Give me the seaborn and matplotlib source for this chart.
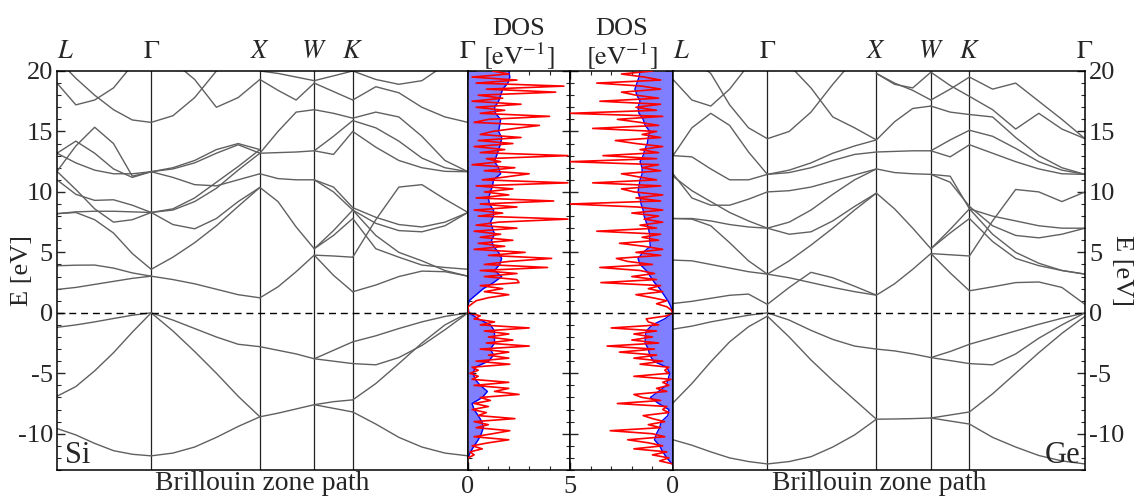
import numpy as np
import pandas as pd
import matplotlib
matplotlib.use("Agg")
import matplotlib.pyplot as plt
import seaborn as sns
from matplotlib.ticker import MultipleLocator

sns.set_theme(style="ticks")
plt.rcParams["font.family"] = ["Liberation Serif", "DejaVu Serif"]
plt.rcParams["mathtext.fontset"] = "stix"
plt.rcParams["axes.unicode_minus"] = False

# ---------------- data ----------------
K_LABELS = ["$L$", r"$\Gamma$", "$X$", "$W$", "$K$", r"$\Gamma$"]
K_NODES = [0.0, 0.866, 1.866, 2.366, 2.720, 3.780]

SI_LG = [
    [-9.57, -10.1, -10.8, -11.4, -11.7, -11.83],
    [-6.9, -6.1, -4.8, -3.3, -1.6, 0.0],
    [-1.2, -1.0, -0.75, -0.47, -0.2, 0.0],
    [1.93, 2.1, 2.35, 2.6, 2.85, 3.03],
    [3.89, 3.94, 3.95, 3.7, 3.3, 3.03],
    [8.2, 8.3, 7.7, 6.6, 4.9, 3.6],
    [8.2, 8.35, 8.4, 8.4, 8.35, 8.3],
    [11.0, 9.8, 9.3, 9.35, 8.9, 8.3],
    [11.7, 10.2, 8.6, 7.5, 7.7, 8.3],
    [11.7, 13.8, 15.35, 14.0, 11.3, 11.67],
    [13.2, 14.2, 13.2, 11.9, 11.2, 11.67],
    [13.2, 12.4, 11.8, 11.5, 11.5, 11.67],
    [19.0, 17.2, 17.6, 18.6, 20.5, 21.0],
    [21.0, 19.4, 18.0, 16.8, 15.95, 15.75],
]
SI_GX = [
    [-11.83, -11.6, -11.1, -10.3, -9.4, -8.6],
    [0.0, -1.5, -3.2, -5.0, -6.9, -8.6],
    [0.0, -0.6, -1.3, -2.0, -2.6, -2.8],
    [3.03, 2.75, 2.4, 1.95, 1.5, 1.24],
    [3.6, 4.6, 5.8, 7.2, 8.8, 10.37],
    [8.3, 7.3, 6.95, 7.8, 9.2, 10.37],
    [8.3, 8.5, 9.2, 10.3, 11.8, 13.2],
    [8.3, 8.6, 9.5, 10.8, 12.1, 13.5],
    [11.67, 11.9, 12.4, 13.2, 13.9, 13.2],
    [11.67, 11.2, 10.6, 10.5, 11.0, 11.5],
    [11.67, 12.0, 12.6, 13.5, 14.0, 13.5],
    [15.75, 16.3, 17.8, 20.0, 21.0, 21.0],
    [21.0, 20.8, 19.3, 17.0, 17.8, 19.3],
]
SI_XW = [
    [-8.6, -8.3, -7.95, -7.6],
    [-2.8, -3.1, -3.4, -3.8],
    [1.24, 2.15, 3.4, 4.77],
    [10.37, 9.2, 7.1, 5.3],
    [11.5, 11.1, 11.0, 11.0],
    [13.2, 13.25, 13.3, 13.4],
    [13.2, 15.0, 16.6, 16.8],
    [19.3, 18.4, 17.6, 19.0],
    [20.0, 19.8, 19.5, 19.2],
]
SI_WK = [
    [-7.6, -7.9, -8.2],
    [-7.6, -7.35, -7.2],
    [-3.8, -4.0, -4.2],
    [-3.8, -3.1, -2.4],
    [4.77, 3.1, 1.74],
    [4.77, 4.7, 4.6],
    [5.3, 6.4, 7.8],
    [5.3, 6.8, 8.5],
    [11.0, 10.0, 8.5],
    [11.0, 10.4, 8.7],
    [13.4, 13.1, 15.0],
    [13.4, 14.6, 15.9],
    [16.8, 16.5, 16.1],
    [19.0, 18.3, 17.6],
    [19.2, 19.6, 20.0],
]
SI_KG = [
    [-8.2, -9.2, -10.3, -11.1, -11.6, -11.83],
    [-7.2, -5.85, -4.2, -2.5, -1.0, 0.0],
    [-4.2, -4.3, -3.7, -2.7, -1.4, 0.0],
    [-2.4, -1.9, -1.3, -0.75, -0.3, 0.0],
    [1.74, 2.3, 3.0, 3.45, 3.4, 3.03],
    [4.6, 7.7, 10.4, 10.6, 9.4, 8.3],
    [7.8, 5.3, 4.6, 3.95, 3.75, 3.6],
    [8.5, 6.4, 5.0, 4.3, 3.5, 3.03],
    [8.5, 7.4, 6.8, 6.7, 7.2, 8.3],
    [8.7, 7.9, 7.3, 7.1, 7.5, 8.3],
    [15.0, 13.7, 12.6, 12.0, 11.7, 11.67],
    [15.9, 15.3, 14.2, 12.8, 12.0, 11.67],
    [16.1, 16.6, 16.2, 14.6, 12.6, 11.67],
    [17.6, 18.7, 18.2, 17.0, 16.2, 15.75],
    [20.0, 19.3, 18.9, 19.2, 20.5, 21.0],
]

GE_LG = [
    [-10.5, -10.95, -11.5, -12.0, -12.3, -12.5],
    [-7.45, -5.85, -4.05, -2.4, -1.15, -0.28],
    [-1.35, -1.1, -0.75, -0.47, -0.2, 0.0],
    [0.77, 0.95, 1.2, 1.45, 1.55, 0.7],
    [4.36, 4.3, 4.0, 3.7, 3.4, 3.2],
    [7.8, 7.75, 7.2, 5.8, 4.3, 3.2],
    [7.8, 7.8, 7.6, 7.3, 7.1, 7.0],
    [11.5, 9.5, 8.9, 8.9, 9.4, 10.0],
    [11.3, 10.1, 9.2, 8.3, 7.6, 7.0],
    [13.0, 12.9, 11.9, 11.0, 11.0, 11.45],
    [13.0, 15.3, 16.5, 15.5, 13.3, 11.45],
    [19.3, 17.6, 17.1, 18.5, 20.5, 21.0],
    [21.0, 21.0, 19.8, 17.2, 15.3, 14.4],
]
GE_GX = [
    [-12.5, -12.3, -11.9, -11.1, -10.1, -8.8],
    [-0.28, -2.0, -3.9, -5.6, -7.2, -8.8],
    [0.0, -0.6, -1.45, -2.2, -2.75, -3.0],
    [0.7, 2.1, 3.35, 2.9, 2.2, 1.46],
    [3.2, 2.9, 2.5, 2.1, 1.75, 1.46],
    [3.2, 4.3, 5.6, 7.0, 8.5, 9.9],
    [7.0, 6.5, 6.7, 7.6, 8.8, 9.9],
    [7.0, 7.5, 8.5, 9.8, 11.0, 11.9],
    [10.0, 10.1, 10.4, 10.9, 11.4, 11.9],
    [11.45, 11.6, 12.0, 12.6, 13.1, 13.3],
    [11.45, 11.8, 12.4, 13.2, 13.8, 14.3],
    [14.4, 15.0, 16.6, 18.9, 21.0, 21.0],
    [21.0, 20.5, 18.6, 16.2, 15.3, 14.3],
]
GE_XW = [
    [-8.8, -8.78, -8.75, -8.7],
    [-3.0, -3.15, -3.4, -3.7],
    [1.46, 2.4, 3.6, 4.9],
    [9.9, 8.6, 7.0, 5.3],
    [11.9, 11.6, 11.5, 11.45],
    [13.3, 13.35, 13.4, 13.4],
    [14.3, 15.8, 16.9, 17.1],
    [19.8, 19.0, 18.4, 17.6],
    [19.8, 18.9, 18.6, 19.9],
]
GE_WK = [
    [-8.7, -8.95, -9.2],
    [-8.7, -8.45, -8.2],
    [-3.7, -3.95, -4.2],
    [-3.7, -3.2, -2.6],
    [4.9, 3.3, 1.82],
    [4.9, 4.8, 4.7],
    [5.3, 6.6, 7.8],
    [5.3, 6.9, 8.6],
    [11.45, 11.3, 8.6],
    [11.45, 10.8, 8.8],
    [13.4, 12.9, 13.9],
    [13.4, 14.3, 15.1],
    [17.1, 16.6, 16.4],
    [17.6, 18.5, 19.5],
    [19.9, 18.8, 17.9],
]
GE_KG = [
    [-9.2, -10.3, -11.1, -11.8, -12.25, -12.5],
    [-8.2, -6.7, -5.0, -3.3, -1.7, -0.28],
    [-4.2, -4.3, -3.4, -2.1, -1.0, 0.0],
    [-2.6, -2.05, -1.5, -0.95, -0.45, 0.0],
    [1.82, 2.15, 2.5, 2.55, 2.1, 0.7],
    [4.7, 7.6, 10.2, 10.0, 9.2, 10.0],
    [7.8, 5.9, 4.5, 3.9, 3.5, 3.2],
    [8.6, 6.5, 5.0, 4.1, 3.5, 3.2],
    [8.6, 8.0, 7.6, 7.2, 7.0, 7.0],
    [8.8, 7.2, 6.4, 6.2, 6.5, 7.0],
    [13.9, 13.2, 12.5, 11.9, 11.5, 11.45],
    [15.1, 14.6, 13.6, 12.5, 11.8, 11.45],
    [16.4, 16.2, 14.5, 13.0, 12.0, 11.45],
    [17.9, 16.8, 15.2, 16.5, 15.2, 14.4],
    [19.5, 18.5, 19.0, 17.5, 16.0, 14.4],
]

# DOS (smoothed on 0.5 eV grid, raw on 0.25 eV grid)
SI_DOS_SMOOTH = [
    0, 0.12, 0.3, 0.5, 0.65, 0.75, 0.68, 0.5, 0.3, 0.2,
    0.7, 0.95, 0.6, 0.35, 0.25, 0.35, 1.0, 1.25, 1.1, 1.3,
    1.3, 1.3, 1.1, 0.5, 0.05, 0, 0.05, 0.4, 0.75, 1.25,
    1.65, 1.3, 1.55, 1.65, 1.5, 1.25, 1.15, 1.3, 1.2, 1.1,
    1.25, 1.25, 1.05, 1.0, 1.1, 1.2, 1.25, 1.6, 1.5, 1.3,
    1.4, 1.5, 1.6, 1.65, 1.5, 1.55, 1.6, 1.35, 1.3, 1.5,
    1.6, 1.7, 1.95, 2.05, 2.0,
]
SI_DOS_RAW = [
    0.0, 0.3, 0.1, 0.7, 0.2, 1.0, 2.0, 0.3,
    1.2, 2.05, 0.4, 1.0, 0.3, 2.3, 0.5, 0.9,
    0.2, 1.0, 0.3, 1.1, 0.6, 2.5, 1.3, 2.0,
    0.3, 2.0, 0.2, 0.5, 0.1, 0.5, 0.2, 2.05,
    0.4, 2.0, 1.0, 2.0, 0.6, 3.0, 0.9, 2.2,
    1.0, 2.0, 0.8, 3.0, 0.6, 1.3, 0.3, 0.6,
    0.0, 0.0, 0.0, 0.2, 0.4, 1.0, 2.0, 0.8,
    1.7, 0.6, 2.5, 2.4, 0.8, 2.4, 0.6, 3.9,
    0.8, 2.0, 4.1, 1.0, 2.8, 0.3, 1.8, 0.5,
    2.2, 0.6, 1.6, 0.3, 2.4, 0.4, 1.5, 4.9,
    0.5, 1.7, 0.3, 2.4, 0.6, 4.2, 0.4, 2.0,
    0.8, 2.2, 0.4, 4.9, 0.7, 1.9, 3.0, 0.8,
    2.3, 0.2, 1.6, 0.9, 4.9, 0.6, 1.8, 0.3,
    2.2, 0.5, 2.6, 0.6, 1.2, 2.3, 3.5, 0.3,
    1.0, 4.0, 0.6, 1.8, 0.4, 2.6, 0.2, 1.7,
    0.5, 4.3, 0.9, 4.7, 0.4, 2.4, 0.2, 2.0,
    1.2,
]
GE_DOS_SMOOTH = [
    0.05, 0.3, 0.5, 0.65, 0.9, 0.8, 0.65, 0.57, 0.25, 0.2,
    0.7, 1.1, 0.7, 0.32, 0.24, 0.16, 0.3, 0.95, 1.13, 1.2,
    1.35, 1.35, 1.3, 1.0, 0.4, 0.02, 0.1, 0.25, 0.45, 0.65,
    0.9, 1.1, 1.3, 1.6, 1.7, 1.45, 1.1, 1.13, 1.13, 1.2,
    1.3, 1.4, 1.45, 1.55, 1.6, 1.7, 1.65, 1.6, 1.5, 1.5,
    1.6, 1.45, 1.37, 1.25, 1.2, 1.13, 1.35, 1.45, 1.65, 1.7,
    1.6, 1.75, 1.85, 1.75, 1.65, 1.6,
]
GE_DOS_RAW = [
    0.0, 0.65, 0.2, 1.0, 0.3, 1.9, 0.5, 1.2,
    2.2, 0.4, 1.0, 3.05, 0.6, 1.2, 0.4, 1.0,
    1.45, 0.2, 0.5, 0.3, 2.7, 0.6, 1.5, 1.9,
    0.3, 0.8, 0.2, 0.5, 0.1, 1.9, 0.2, 0.4,
    0.2, 1.6, 0.5, 1.9, 0.8, 2.6, 0.9, 3.2,
    0.7, 2.0, 1.0, 1.9, 0.8, 3.0, 0.7, 1.2,
    1.3, 0.3, 0.0, 0.1, 0.3, 0.8, 0.3, 1.0,
    1.8, 0.5, 1.2, 0.6, 3.5, 0.8, 2.0, 0.9,
    1.6, 3.55, 1.0, 2.2, 2.75, 0.6, 1.8, 0.5,
    1.4, 2.6, 0.7, 1.5, 0.6, 3.7, 0.8, 1.6,
    0.5, 1.4, 0.7, 2.0, 0.5, 1.7, 5.0, 0.6,
    1.8, 0.5, 1.9, 2.5, 0.6, 3.9, 0.8, 1.7,
    2.5, 0.6, 1.5, 0.7, 5.0, 0.8, 3.4, 0.7,
    1.6, 0.5, 1.8, 2.8, 0.6, 1.5, 0.8, 3.9,
    0.7, 1.6, 2.7, 0.5, 5.0, 0.8, 1.8, 0.6,
    3.55, 0.7, 1.8, 2.5, 0.6, 1.5, 3.7, 0.6,
    1.4, 2.5, 1.0,
]
SI_E_RANGE = (-12.0, 20.0)
GE_E_RANGE = (-12.5, 20.0)

# ---------------- figure ----------------
W, H = 1137, 497
fig = plt.figure(figsize=(W / 100, H / 100), dpi=100)


def rect(x0, x1, y0=71, y1=470):
    return [x0 / W, 1 - y1 / H, (x1 - x0) / W, (y1 - y0) / H]


ax_si = fig.add_axes(rect(57, 468))
ax_sd = fig.add_axes(rect(468, 570))
ax_gd = fig.add_axes(rect(570, 673))
ax_ge = fig.add_axes(rect(673, 1085))

TICK_FS = 19
LAB_FS = 19
BAND_COLOR = "#606060"


def band_frame(segments):
    rows = []
    uid = 0
    for s, bands in enumerate(segments):
        for b in bands:
            ks = np.linspace(K_NODES[s], K_NODES[s + 1], len(b))
            for k, e in zip(ks, b):
                rows.append((k, e, uid))
            uid += 1
    return pd.DataFrame(rows, columns=["k", "E", "unit"])


def draw_bands(ax, segments, side):
    df = band_frame(segments)
    sns.lineplot(data=df, x="k", y="E", units="unit", estimator=None, sort=False,
                 color=BAND_COLOR, linewidth=1.0, ax=ax, legend=False)
    for k in K_NODES[1:-1]:
        ax.axvline(k, color="#222222", lw=0.9, zorder=1)
    ax.axhline(0, color="black", lw=1.0, ls=(0, (5, 3.5)), zorder=3)
    ax.set_xlim(K_NODES[0], K_NODES[-1])
    ax.set_ylim(-13, 20)
    ax.set_xticks(K_NODES)
    ax.set_xticklabels(K_LABELS)
    ax.tick_params(axis="x", which="both", top=True, labeltop=True, bottom=False,
                   labelbottom=False, length=0, labelsize=LAB_FS, pad=6)
    ax.get_xticklabels()[0].set_ha("left")
    ax.xaxis.set_label_position("bottom")
    ax.set_xlabel("Brillouin zone path", fontsize=LAB_FS + 1, va="bottom")
    ax.xaxis.set_label_coords(0.5, -0.064)
    ax.yaxis.set_major_locator(MultipleLocator(5))
    ax.yaxis.set_minor_locator(MultipleLocator(1))
    if side == "left":
        ax.tick_params(axis="y", which="both", direction="in", left=True, right=False,
                       labelleft=True, labelright=False, labelsize=TICK_FS, pad=3)
        ax.set_ylabel("E [eV]", fontsize=LAB_FS, va="center")
        ax.yaxis.set_label_coords(-0.085, 0.5)
    else:
        ax.yaxis.set_label_position("right")
        ax.tick_params(axis="y", which="both", direction="in", left=False, right=True,
                       labelleft=False, labelright=True, labelsize=TICK_FS, pad=3)
        ax.set_ylabel("E [eV]", fontsize=LAB_FS, rotation=270, va="center")
        ax.yaxis.set_label_coords(1.09, 0.5)
    ax.tick_params(axis="y", which="major", length=6, width=1)
    ax.tick_params(axis="y", which="minor", length=3, width=0.8)


def draw_dos(ax, raw, smooth, erange, flip):
    e_raw = np.linspace(erange[0], erange[1], len(raw))
    e_sm = np.linspace(erange[0], erange[1], len(smooth))
    ax.fill_betweenx(e_sm, 0, smooth, color="#7f7fff", lw=0, zorder=1)
    sns.lineplot(x=smooth, y=e_sm, orient="y", sort=False, estimator=None,
                 color="blue", linewidth=1.0, ax=ax, zorder=2)
    sns.lineplot(x=raw, y=e_raw, orient="y", sort=False, estimator=None,
                 color="red", linewidth=1.2, ax=ax, zorder=3)
    ax.axhline(0, color="black", lw=1.0, ls=(0, (5, 3.5)), zorder=4)
    ax.set_ylim(-13, 20)
    ax.set_xlim((5, 0) if flip else (0, 5))
    ax.set_xticks([0, 5])
    ax.set_xticklabels(["0", ""] if flip else ["0", "5"])
    ax.xaxis.set_minor_locator(MultipleLocator(1))
    ax.yaxis.set_major_locator(MultipleLocator(5))
    ax.yaxis.set_minor_locator(MultipleLocator(1))
    ax.tick_params(axis="both", which="both", direction="in", top=True, bottom=True,
                   left=True, right=True, labelleft=False, labelright=False,
                   labelsize=TICK_FS, pad=4)
    ax.tick_params(axis="both", which="major", length=6, width=1)
    ax.tick_params(axis="both", which="minor", length=3, width=0.8)
    ax.set_xlabel("")
    ax.set_ylabel("")
    ax.set_title("DOS\n" + r"$\left[\mathrm{eV}^{-1}\right]$", fontsize=LAB_FS,
                 pad=3, linespacing=1.0)


draw_bands(ax_si, [SI_LG, SI_GX, SI_XW, SI_WK, SI_KG], "left")
draw_bands(ax_ge, [GE_LG, GE_GX, GE_XW, GE_WK, GE_KG], "right")
draw_dos(ax_sd, SI_DOS_RAW, SI_DOS_SMOOTH, SI_E_RANGE, False)
draw_dos(ax_gd, GE_DOS_RAW, GE_DOS_SMOOTH, GE_E_RANGE, True)

ax_si.text(0.019, 0.017, "Si", transform=ax_si.transAxes, fontsize=22,
           ha="left", va="baseline")
ax_ge.text(0.988, 0.017, "Ge", transform=ax_ge.transAxes, fontsize=22,
           ha="right", va="baseline")

for ax in (ax_si, ax_sd, ax_gd, ax_ge):
    for sp in ax.spines.values():
        sp.set_color("black")
        sp.set_linewidth(1.1)
    ax.grid(False)

fig.savefig("out.png", dpi=100)
